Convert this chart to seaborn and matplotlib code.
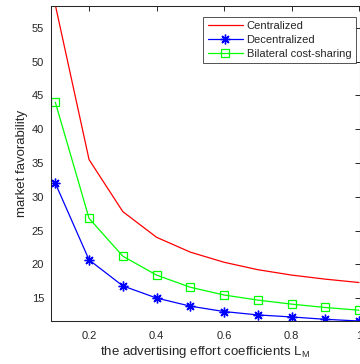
import matplotlib
matplotlib.use("Agg")
import matplotlib.pyplot as plt
import seaborn as sns

# advertising effort coefficient values
L_M = [0.1, 0.2, 0.3, 0.4, 0.5, 0.6, 0.7, 0.8, 0.9, 1.0]

# market favorability under each decision mode
centralized = [58.4, 35.5, 27.8, 24.0, 21.8, 20.3, 19.2, 18.4, 17.8, 17.3]
decentralized = [32.0, 20.65, 16.8, 15.0, 13.8, 13.0, 12.5, 12.2, 11.85, 11.6]
cost_sharing = [44.0, 26.8, 21.2, 18.4, 16.6, 15.45, 14.7, 14.1, 13.6, 13.2]

series_labels = ["Centralized", "Decentralized", "Bilateral cost-sharing"]
x_ticks = [0.2, 0.4, 0.6, 0.8, 1.0]
x_tick_labels = ["0.2", "0.4", "0.6", "0.8", "1"]
y_ticks = [15, 20, 25, 30, 35, 40, 45, 50, 55]

sns.set_style("white")
plt.rcParams["font.family"] = ["Liberation Sans", "DejaVu Sans"]
plt.rcParams["mathtext.fontset"] = "custom"
plt.rcParams["mathtext.rm"] = "Liberation Sans"
plt.rcParams["mathtext.it"] = "Liberation Sans"

W, H = 360, 364
fig = plt.figure(figsize=(W / 100, H / 100), dpi=100)
ax = fig.add_axes([50.5 / W, 1 - 321 / H, 309.5 / W, 315 / H])

dark = "#262626"
sns.lineplot(x=L_M, y=centralized, color="#ff0000", lw=0.9, ax=ax,
             label=series_labels[0])
sns.lineplot(x=L_M, y=decentralized, color="#0000ff", lw=0.9, ax=ax,
             marker=(8, 2, 0), markersize=7, markerfacecolor="#0000ff",
             markeredgecolor="#0000ff", markeredgewidth=1.0,
             label=series_labels[1])
sns.lineplot(x=L_M, y=cost_sharing, color="#00ff00", lw=0.9, ax=ax,
             marker="s", markersize=5.5, markerfacecolor="none",
             markeredgecolor="#00ff00", markeredgewidth=0.9,
             label=series_labels[2])

ax.set_xlim(0.0857, 1.003)
ax.set_ylim(min(decentralized), 58.25)
ax.set_xticks(x_ticks)
ax.set_xticklabels(x_tick_labels)
ax.set_yticks(y_ticks)

ax.tick_params(direction="in", top=True, right=True, length=3.5, width=0.7,
               colors=dark, labelsize=8.0)
ax.tick_params(axis="x", pad=7)
ax.tick_params(axis="y", pad=4.5)
for s in ax.spines.values():
    s.set_color(dark)
    s.set_linewidth(0.75)

ax.set_xlabel("the advertising effort coefficients L$_{\\mathrm{M}}$",
              fontsize=9.5, color=dark, labelpad=2)
ax.set_ylabel("market favorability", fontsize=9.5, color=dark, labelpad=3)

leg = ax.legend(loc="upper right", bbox_to_anchor=(0.986, 0.966),
                borderaxespad=0, frameon=True, fancybox=False,
                fontsize=8.0, handlelength=3.2, handletextpad=0.3,
                labelspacing=0.35, borderpad=0.4)
leg.get_frame().set_edgecolor("#262626")
leg.get_frame().set_linewidth(0.7)

fig.savefig("out.png", dpi=100)
